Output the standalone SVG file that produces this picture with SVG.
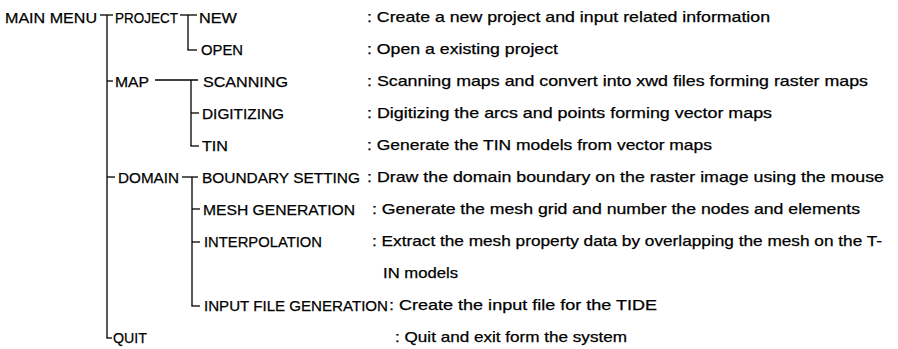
<svg xmlns="http://www.w3.org/2000/svg" width="898" height="349" viewBox="0 0 898 349">
<style>
text{font-family:"Liberation Sans",Arial,sans-serif;font-size:15px;fill:#000;stroke:#000;stroke-width:0.25}
.c line{stroke:#000;stroke-width:1.3;fill:none}
</style>
<rect width="898" height="349" fill="#fff"/>
<g class="c" id="connectors">
<line x1="100" y1="15" x2="113" y2="15"/>
<line x1="107" y1="15" x2="107" y2="338"/>
<line x1="106.4" y1="338" x2="112" y2="338"/>
<line x1="107" y1="81" x2="113" y2="81"/>
<line x1="107" y1="177" x2="115" y2="177"/>
<line x1="180" y1="15" x2="197" y2="15"/>
<line x1="188" y1="15" x2="188" y2="50"/>
<line x1="187.4" y1="50" x2="197" y2="50"/>
<line x1="155" y1="80" x2="198" y2="80"/>
<line x1="191" y1="80" x2="191" y2="146"/>
<line x1="191" y1="113" x2="199" y2="113"/>
<line x1="190.4" y1="146" x2="199" y2="146"/>
<line x1="182" y1="177" x2="198" y2="177"/>
<line x1="192" y1="177" x2="192" y2="306"/>
<line x1="192" y1="209" x2="200" y2="209"/>
<line x1="192" y1="242" x2="200" y2="242"/>
<line x1="191.4" y1="306" x2="200" y2="306"/>
</g>
<g id="main-menu"><text x="5" y="22.5" textLength="92" lengthAdjust="spacingAndGlyphs">MAIN MENU</text></g>
<g id="project"><text x="115" y="22.5" textLength="63" lengthAdjust="spacingAndGlyphs">PROJECT</text></g>
<g id="new"><text x="199" y="22.5" textLength="38" lengthAdjust="spacingAndGlyphs">NEW</text><text x="367" y="21.5" textLength="403" lengthAdjust="spacingAndGlyphs">: Create a new project and input related information</text></g>
<g id="open"><text x="201" y="54.5" textLength="42" lengthAdjust="spacingAndGlyphs">OPEN</text><text x="367" y="53.5" textLength="191" lengthAdjust="spacingAndGlyphs">: Open a existing project</text></g>
<g id="map"><text x="115" y="86.5" textLength="34" lengthAdjust="spacingAndGlyphs">MAP</text></g>
<g id="scanning"><text x="203" y="86.5" textLength="85" lengthAdjust="spacingAndGlyphs">SCANNING</text><text x="367" y="85.5" textLength="501" lengthAdjust="spacingAndGlyphs">: Scanning maps and convert into xwd files forming raster maps</text></g>
<g id="digitizing"><text x="202" y="118.5" textLength="82" lengthAdjust="spacingAndGlyphs">DIGITIZING</text><text x="367" y="117.5" textLength="405" lengthAdjust="spacingAndGlyphs">: Digitizing the arcs and points forming vector maps</text></g>
<g id="tin"><text x="202" y="150.5" textLength="26" lengthAdjust="spacingAndGlyphs">TIN</text><text x="367" y="149.5" textLength="345" lengthAdjust="spacingAndGlyphs">: Generate the TIN models from vector maps</text></g>
<g id="domain"><text x="118" y="182.5" textLength="61" lengthAdjust="spacingAndGlyphs">DOMAIN</text></g>
<g id="boundary-setting"><text x="202" y="182.5" textLength="158" lengthAdjust="spacingAndGlyphs">BOUNDARY SETTING</text><text x="367" y="181.5" textLength="517" lengthAdjust="spacingAndGlyphs">: Draw the domain boundary on the raster image using the mouse</text></g>
<g id="mesh-generation"><text x="203" y="214.5" textLength="152" lengthAdjust="spacingAndGlyphs">MESH GENERATION</text><text x="372" y="213.5" textLength="488" lengthAdjust="spacingAndGlyphs">: Generate the mesh grid and number the nodes and elements</text></g>
<g id="interpolation"><text x="204" y="246.5" textLength="118" lengthAdjust="spacingAndGlyphs">INTERPOLATION</text><text x="372" y="245.5" textLength="510" lengthAdjust="spacingAndGlyphs">: Extract the mesh property data by overlapping the mesh on the T-</text><text x="383" y="277.5" textLength="75" lengthAdjust="spacingAndGlyphs">IN models</text></g>
<g id="input-file-generation"><text x="204" y="310.5" textLength="184" lengthAdjust="spacingAndGlyphs">INPUT FILE GENERATION</text><text x="389" y="309.5" textLength="268" lengthAdjust="spacingAndGlyphs">: Create the input file for the TIDE</text></g>
<g id="quit"><text x="113" y="342.5" textLength="34" lengthAdjust="spacingAndGlyphs">QUIT</text><text x="395" y="341.5" textLength="232" lengthAdjust="spacingAndGlyphs">: Quit and exit form the system</text></g>
</svg>
